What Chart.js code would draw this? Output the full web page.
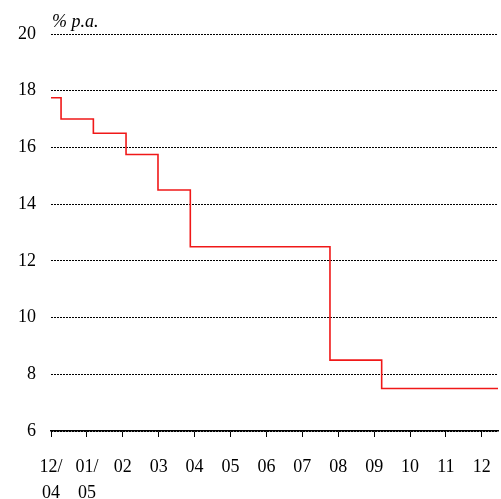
<!DOCTYPE html>
<html>
<head>
  <meta charset="UTF-8">
  <title>Rate chart</title>
  <script src="https://cdn.jsdelivr.net/npm/chart.js"></script>
  <style>
    html, body { margin: 0; padding: 0; background: #fff; overflow: hidden; }
    canvas { display: block; }
  </style>
</head>
<body>
  <canvas id="rateChart" width="501" height="499"></canvas>

  <script>
    // months since Dec 2004 where the rate changes
    const changeMonths = [0, 0.28, 1.18, 2.09, 2.98, 3.88, 7.77, 9.21, 12.45];
    const rateValues = [17.75, 17.0, 16.5, 15.75, 14.5, 12.5, 8.5, 7.5, 7.5];
    const monthLabels = [["12/", "04"], ["01/", "05"], "02", "03", "04", "05", "06", "07", "08", "09", "10", "11", "12"];
    const yTicks = [6, 8, 10, 12, 14, 16, 18, 20];
    const unitLabel = "% p.a.";

    const points = changeMonths.map((m, i) => ({ x: m, y: rateValues[i] }));
    const serif = "Liberation Serif";
    Chart.defaults.font.family = serif;

    // unit label above the plot, left-aligned with it
    const unitPlugin = {
      id: "unitLabel",
      afterDraw(chart) {
        const ctx = chart.ctx;
        ctx.save();
        ctx.font = 'italic 18px "Liberation Serif"';
        ctx.fillStyle = "#000";
        ctx.textAlign = "left";
        ctx.textBaseline = "alphabetic";
        ctx.fillText(unitLabel, chart.chartArea.left + 1, chart.chartArea.top - 7);
        ctx.restore();
      }
    };

    new Chart(document.getElementById("rateChart"), {
      type: "line",
      data: {
        datasets: [{
          data: points,
          borderColor: "#f01818",
          borderWidth: 1.6,
          pointRadius: 0,
          fill: false,
          stepped: true
        }]
      },
      options: {
        responsive: false,
        animation: false,
        layout: { padding: { top: 34, right: 3, left: 0, bottom: 0 } },
        plugins: { legend: { display: false }, tooltip: { enabled: false } },
        scales: {
          x: {
            type: "linear",
            min: 0,
            max: changeMonths[changeMonths.length - 1],
            afterFit: s => { s.height = 68; s.paddingLeft = 0; s.paddingRight = 0; },
            border: { color: "#000", width: 1.5 },
            grid: { drawOnChartArea: false, drawTicks: true, tickLength: 6, color: "#000", lineWidth: 1 },
            ticks: {
              stepSize: 1,
              includeBounds: false,
              maxRotation: 0,
              autoSkip: false,
              padding: 17,
              color: "#000",
              font: { family: serif, size: 18, lineHeight: 1.45 },
              callback: v => monthLabels[v]
            }
          },
          y: {
            min: 6,
            max: 20,
            afterFit: s => { s.width = 51; },
            afterBuildTicks: s => { s.ticks = yTicks.map(v => ({ value: v })); },
            border: { display: false, dash: [2, 1] },
            grid: { drawTicks: false, color: "#000", lineWidth: 1 },
            ticks: {
              padding: 15,
              color: "#000",
              font: { family: serif, size: 18 }
            }
          }
        }
      },
      plugins: [unitPlugin]
    });
  </script>
</body>
</html>
